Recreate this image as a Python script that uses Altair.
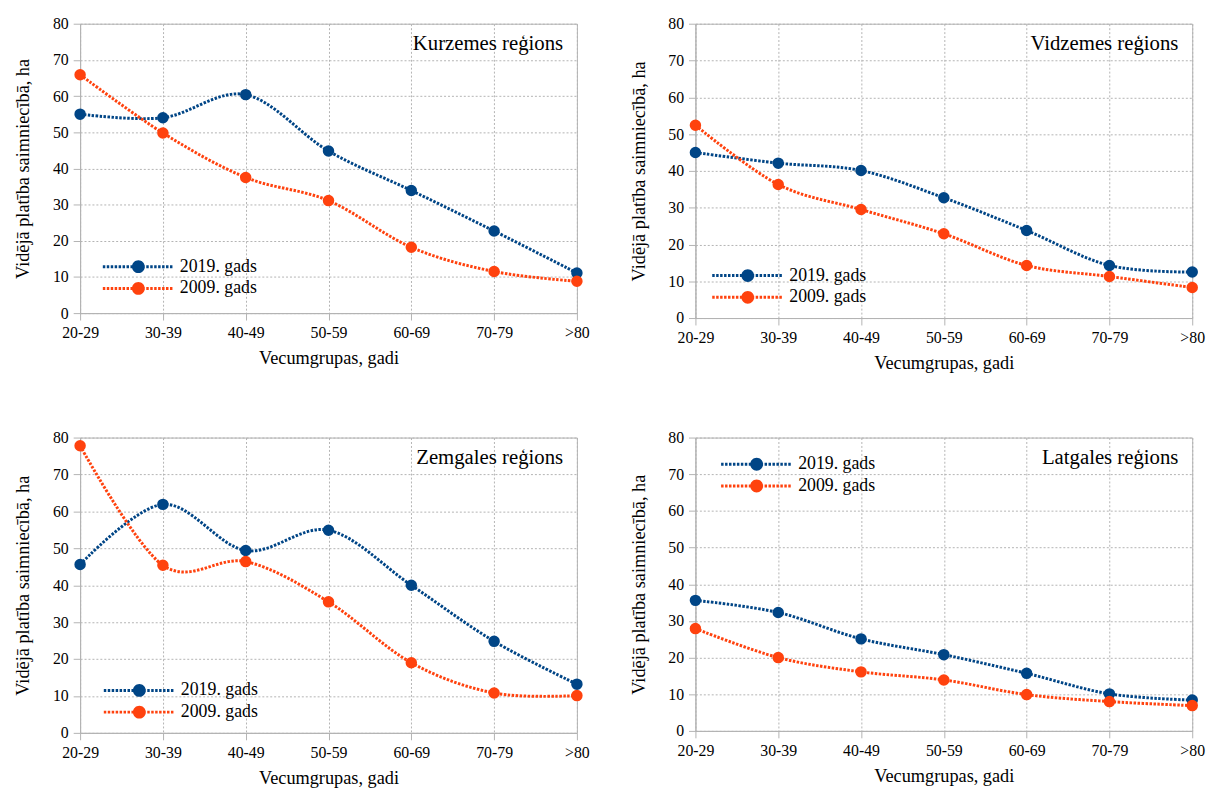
import altair as alt
import pandas as pd

FONT = "Liberation Serif"

categories = ["20-29", "30-39", "40-49", "50-59", "60-69", "70-79", ">80"]
series_names = ["2019. gads", "2009. gads"]
series_colors = ["#004586", "#ff420e"]
regions = ["Kurzemes reģions", "Vidzemes reģions", "Zemgales reģions", "Latgales reģions"]
y_ticks = [0, 10, 20, 30, 40, 50, 60, 70, 80]

kurzeme_2019 = [55.0, 54.0, 60.4, 44.8, 33.9, 22.7, 11.1]
kurzeme_2009 = [65.9, 49.8, 37.5, 31.1, 18.2, 11.5, 8.8]
vidzeme_2019 = [45.0, 42.1, 40.1, 32.7, 23.8, 14.3, 12.5]
vidzeme_2009 = [52.4, 36.3, 29.5, 22.9, 14.3, 11.3, 8.3]
zemgale_2019 = [45.6, 61.9, 49.4, 54.9, 40.0, 24.8, 13.2]
zemgale_2009 = [77.8, 45.4, 46.4, 35.5, 19.0, 10.8, 10.1]
latgale_2019 = [35.6, 32.3, 25.1, 20.8, 15.7, 10.1, 8.4]
latgale_2009 = [27.9, 20.0, 16.1, 13.9, 9.9, 8.0, 6.9]

W = 503

# legend symbol: dotted line made of small filled squares plus a filled dot (units = px)
_parts = []
_xx = -36.0
while _xx < 35.9:
    _parts.append("M%.2f,-1.5h2.5v3h-2.5Z" % _xx)
    _xx += 4.0
_parts.append("M6.5,0A6.5,6.5,0,1,1,-6.5,0A6.5,6.5,0,1,1,6.5,0Z")
SYMBOL = "".join(_parts)


def make_legend(lx, ly):
    return alt.Legend(
        title=None,
        orient="none",
        legendX=lx,
        legendY=ly,
        symbolType=SYMBOL,
        symbolSize=4,
        symbolStrokeWidth=0,
        symbolOpacity=1,
        symbolOffset=27,
        labelOffset=33,
        rowPadding=4,
        padding=0,
        labelFont=FONT,
        labelFontSize=18,
        labelColor="black",
    )


def panel(region, v2019, v2009, lx, ly, h):
    df = pd.DataFrame({
        "age": categories * 2,
        "value": v2019 + v2009,
        "series": [series_names[0]] * len(categories) + [series_names[1]] * len(categories),
        "order": list(range(len(categories))) * 2,
    })
    x = alt.X("age:N", sort=categories, scale=alt.Scale(type="point", padding=0),
              axis=alt.Axis(title="Vecumgrupas, gadi", labelAngle=0, grid=True,
                            labelFont=FONT, labelFontSize=16, titleFont=FONT, titleFontSize=18.5,
                            titlePadding=8))
    y = alt.Y("value:Q", scale=alt.Scale(domain=[0, 80], nice=False),
              axis=alt.Axis(title="Vidējā platība saimniecībā, ha", values=y_ticks, grid=True,
                            labelFont=FONT, labelFontSize=16, titleFont=FONT, titleFontSize=18.5,
                            titlePadding=20))
    base = alt.Chart(df)
    layers = []
    for s, c in zip(series_names, series_colors):
        layers.append(
            base.transform_filter(alt.datum.series == s).mark_line(
                interpolate="cardinal", strokeWidth=3, strokeDash=[2.5, 1.5], color=c
            ).encode(x=x, y=y, order=alt.Order("order:Q"))
        )
    points = base.mark_circle(size=135, opacity=1).encode(
        x=x, y=y,
        fill=alt.Fill("series:N", scale=alt.Scale(domain=series_names, range=series_colors),
                      legend=make_legend(lx, ly)))
    title = alt.Chart(pd.DataFrame({"t": [region]})).mark_text(
        align="right", baseline="middle", font=FONT, fontSize=21, color="black"
    ).encode(text="t:N", x=alt.value(W - 14), y=alt.value(21))
    return alt.layer(*layers, points, title).properties(width=W, height=h)


p1 = panel(regions[0], kurzeme_2019, kurzeme_2009, 23, 237, 293)
p2 = panel(regions[1], vidzeme_2019, vidzeme_2009, 17, 246, 298)
p3 = panel(regions[2], zemgale_2019, zemgale_2009, 24, 247, 299)
p4 = panel(regions[3], latgale_2019, latgale_2009, 26, 18, 297)


def indep(c):
    return c.resolve_scale(fill="independent").resolve_legend(fill="independent")


top = indep(alt.hconcat(p1, p2, spacing=38))
bottom = indep(alt.hconcat(p3, p4, spacing=38))

chart = indep(alt.vconcat(top, bottom, spacing=57)).properties(
    padding={"left": 5, "top": 2, "right": 5, "bottom": 5}
).configure(font=FONT).configure_view(
    stroke="#b3b3b3", strokeWidth=1
).configure_axis(
    labelFont=FONT, labelFontSize=16, labelColor="black",
    titleFont=FONT, titleFontSize=18.5, titleFontWeight="normal", titleColor="black",
    domainColor="#b3b3b3", tickColor="#b3b3b3", tickSize=7, labelPadding=5,
    gridColor="#b3b3b3", gridDash=[2, 2], gridOpacity=1,
)

chart.save("out.html", embed_options={"renderer": "svg", "actions": False})
